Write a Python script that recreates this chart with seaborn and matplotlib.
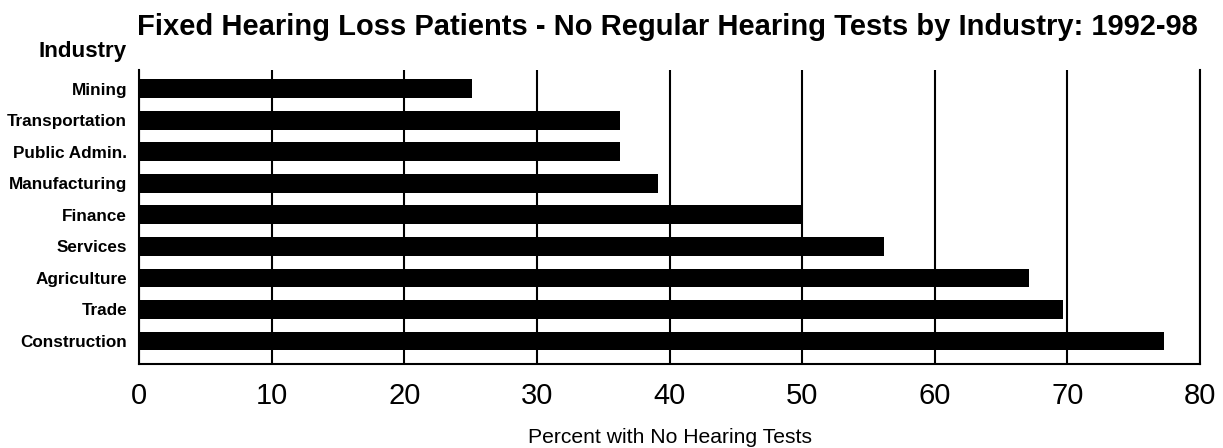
import matplotlib
matplotlib.use("Agg")
import matplotlib.pyplot as plt
import seaborn as sns
import pandas as pd

# values
industries = ["Mining", "Transportation", "Public Admin.", "Manufacturing", "Finance",
              "Services", "Agriculture", "Trade", "Construction"]
pct_no_tests = [25.1, 36.3, 36.3, 39.1, 50.0, 56.2, 67.1, 69.7, 77.3]
x_ticks = [0, 10, 20, 30, 40, 50, 60, 70, 80]

df = pd.DataFrame({"industry": industries, "pct": pct_no_tests})

sns.set_style("white")
plt.rcParams["font.family"] = ["Liberation Sans", "DejaVu Sans"]
plt.rcParams["text.color"] = "black"
plt.rcParams["axes.labelcolor"] = "black"
plt.rcParams["xtick.color"] = "black"
plt.rcParams["ytick.color"] = "black"

fig = plt.figure(figsize=(12.23, 4.48), dpi=100)
ax = fig.add_axes([0.1137, 0.1875, 0.8675, 0.65625])

sns.barplot(data=df, x="pct", y="industry", orient="h", color="black",
            saturation=1, width=0.6, ax=ax, edgecolor="black", linewidth=0, zorder=3)

ax.set_xlim(0, 80)
ax.set_ylim(8.73, -0.6)
ax.set_xticks(x_ticks)
ax.set_xticklabels([str(t) for t in x_ticks], fontsize=21)
ax.tick_params(axis="x", direction="out", length=10, width=1.5, color="black", pad=3)
ax.tick_params(axis="y", length=0, pad=8.5)
for lab in ax.get_yticklabels():
    lab.set_fontsize(12.3)
    lab.set_fontweight("bold")

ax.xaxis.grid(True, color="black", linewidth=1.5, zorder=1)
ax.set_axisbelow(True)
ax.spines["top"].set_visible(False)
ax.spines["right"].set_visible(True)
for s in ["left", "bottom", "right"]:
    ax.spines[s].set_color("black")
    ax.spines[s].set_linewidth(1.5)

ax.set_ylabel("")
ax.set_xlabel("Percent with No Hearing Tests", fontsize=15.2, labelpad=13)

fig.text(0.546, 0.9395, "Fixed Hearing Loss Patients - No Regular Hearing Tests by Industry: 1992-98",
         ha="center", va="center", fontsize=21, fontweight="bold")
fig.text(0.104, 0.885, "Industry", ha="right", va="center", fontsize=16.1, fontweight="bold")

fig.savefig("out.png", dpi=100)
